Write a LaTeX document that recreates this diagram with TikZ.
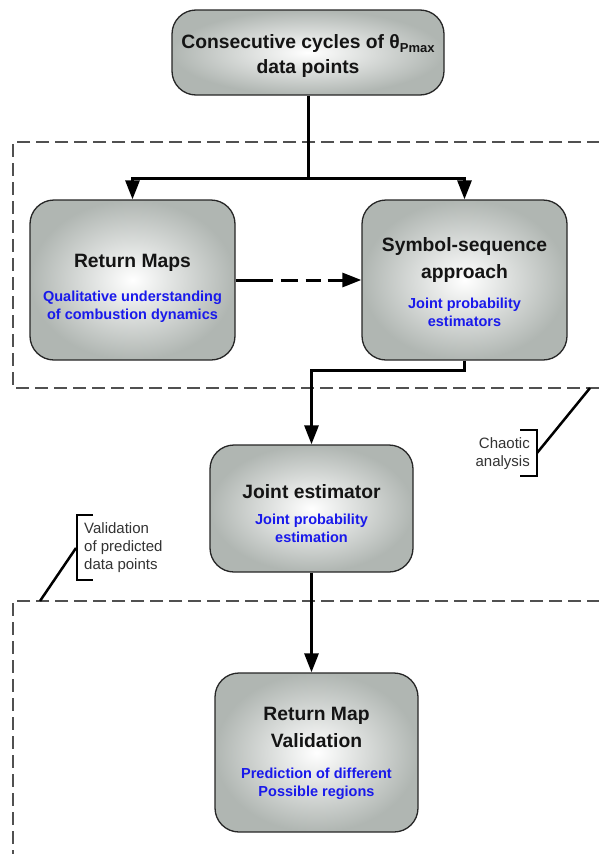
\documentclass[tikz,border=0pt]{standalone}
\usepackage{fontspec}
\setmainfont{Liberation Sans}
\usetikzlibrary{arrows.meta}
\definecolor{boxgray}{RGB}{176,182,178}
\definecolor{txtblue}{RGB}{25,25,235}
\definecolor{dashgray}{RGB}{80,80,80}
\definecolor{titlec}{RGB}{20,20,20}
\tikzset{
  box/.style={draw=black!85, line width=1.3pt, rounded corners=24pt,
    inner color=white, outer color=boxgray, inner sep=0pt},
  ttl/.style={font=\fontsize{19.3}{27}\selectfont\bfseries, text=titlec, align=center, inner sep=0pt},
  bluetxt/.style={font=\fontsize{14.5}{18}\selectfont\bfseries, text=txtblue, align=center, inner sep=0pt},
  arr/.style={line width=3pt, -{Triangle[length=19pt,width=14pt]}},
  plain/.style={line width=3pt},
  dashedarrow/.style={line width=3pt, dash pattern=on 37pt off 8pt on 17pt off 8pt on 15pt off 7pt on 40pt,
    -{Triangle[length=19pt,width=14pt]}},
  dashbox/.style={draw=dashgray, line width=1.6pt, dash pattern=on 13pt off 6pt},
  brack/.style={line width=2.5pt},
  note/.style={font=\fontsize{15}{18}\selectfont, text=black!80, inner sep=0pt}
}
\begin{document}
\begin{tikzpicture}[x=1pt,y=-1pt]
\useasboundingbox (0,0) rectangle (598,854);
\fill[white] (0,0) rectangle (598,854);

% dashed regions
\draw[dashbox] (600,142) -- (13,142) -- (13,388) -- (600,388);
\draw[dashbox] (600,601) -- (13,601) -- (13,856);

% boxes
\node[box, minimum width=272pt, minimum height=85pt] (top) at (308,52.5) {};
\node[box, minimum width=205pt, minimum height=160pt] (rm) at (132.5,280) {};
\node[box, minimum width=205pt, minimum height=160pt] (ss) at (464.5,280) {};
\node[box, minimum width=203pt, minimum height=127pt] (je) at (311.5,508.5) {};
\node[box, minimum width=203pt, minimum height=159pt] (rv) at (316.5,752.5) {};

% texts
\node[ttl, font=\fontsize{19.3}{25}\selectfont\bfseries] (topT) at (308,56)
  {Consecutive cycles of θ\raisebox{-0.22em}{\fontsize{13}{13}\selectfont Pmax}\\data points};
\node[ttl] (rmT) at (132.5,263) {Return Maps};
\node[bluetxt] (rmB) at (132.5,307) {Qualitative understanding\\of combustion dynamics};
\node[ttl] (ssT) at (464.5,260) {Symbol-sequence\\approach};
\node[bluetxt] (ssB) at (464.5,312) {Joint probability\\estimators};
\node[ttl] (jeT) at (311.5,492) {Joint estimator};
\node[bluetxt] (jeB) at (311.5,528.5) {Joint probability\\estimation};
\node[ttl] (rvT) at (316.5,727) {Return Map\\Validation};
\node[bluetxt] (rvB) at (316.5,783.5) {Prediction of different\\Possible regions};

% connectors
\coordinate (split) at (308,178);
\draw[plain] (top.south) -- (split);
\draw[arr] (split) -| (rm.north);
\draw[arr] (split) -| (ss.north);
\draw[dashedarrow] (rm.east) -- (ss.west);
\coordinate (bend) at (464.5,370);
\draw[arr] (ss.south) -- (bend) -| (je.north);
\draw[arr] (je.south) -- (je.south |- rv.north);

% annotations
\coordinate (ca) at (590,388);
\coordinate (cb) at (537,453);
\draw[brack] (520,430) -- (537,430) -- (537,476) -- (520,476);
\draw[brack] (cb) -- (ca);
\node[note, align=right, anchor=east] (chaotic) at (530,454) {Chaotic\\analysis};

\coordinate (va) at (76,548);
\coordinate (vb) at (40,601);
\draw[brack] (93,515) -- (77,515) -- (77,580) -- (93,580);
\draw[brack] (va) -- (vb);
\node[note, align=left, anchor=west] (valid) at (84,548) {Validation\\of predicted\\data points};
\end{tikzpicture}
\end{document}
